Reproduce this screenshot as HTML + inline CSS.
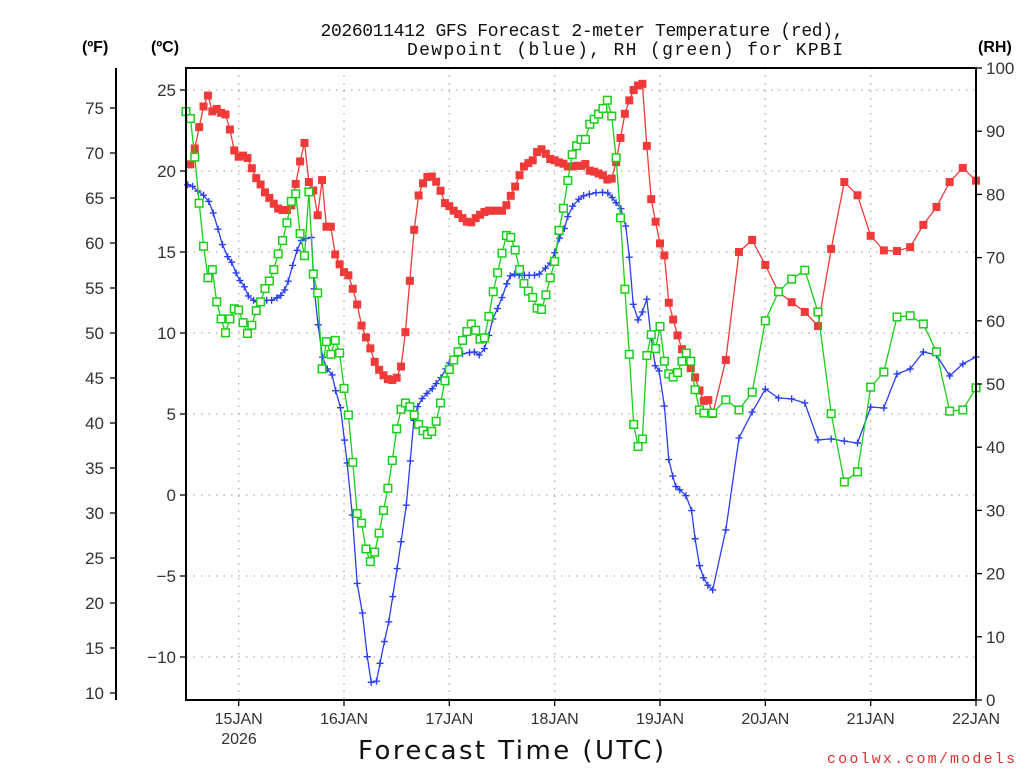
<!DOCTYPE html>
<html><head><meta charset="utf-8"><style>
html,body{margin:0;padding:0;background:#fff;}
svg{display:block;font-family:"Liberation Sans","DejaVu Sans",sans-serif;}
</style></head><body>
<svg id="chart" width="1024" height="768" viewBox="0 0 1024 768" xmlns="http://www.w3.org/2000/svg"></svg>
<script>
// ---- data ----
const dayLabels = ["15JAN","16JAN","17JAN","18JAN","19JAN","20JAN","21JAN","22JAN"];
const cTicks = [25,20,15,10,5,0,-5,-10];
const fTicks = [75,70,65,60,55,50,45,40,35,30,25,20,15,10];
const rhTicks = [100,90,80,70,60,50,40,30,20,10,0];

const tempHours = [1,2,3,4,5,6,7,8,9,10,11,12,13,14,15,16,17,18,19,20,21,22,23,24,25,26,27,28,29,30,31,32,33,34,35,36,37,38,39,40,41,42,43,44,45,46,47,48,49,50,51,52,53,54,55,56,57,58,59,
60,61,62,63,64,65,66,67,68,69,70,71,72,73,74,75,76,77,78,79,80,81,82,83,84,85,86,87,88,89,90,91,92,93,94,95,96,97,98,99,100,101,102,103,104,105,106,107,108,109,110,111,112,113,114,115,116,117,118,119,120,
123,126,129,132,135,138,141,144,147,150,153,156,159,162,165,168,171,174,177,180];
const tempC = [20.41,21.39,22.71,23.98,24.66,23.68,23.83,23.59,23.49,22.56,21.27,20.88,20.95,20.80,20.17,19.56,19.17,18.68,18.34,17.98,17.68,17.59,17.59,17.88,19.2,20.59,21.73,19.32,18.80,17.27,19.44,16.56,16.56,14.85,14.24,13.76,13.56,12.73,11.76,10.46,9.73,9.05,8.22,7.73,7.39,7.15,7.10,7.24,7.93,10.05,13.22,16.37,18.49,19.24,19.63,19.66,19.34,18.78,18.02,
17.83,17.55,17.34,17.09,16.87,16.83,17.09,17.30,17.47,17.55,17.55,17.55,17.55,17.89,18.47,19.04,19.74,20.28,20.49,20.66,21.17,21.34,21.06,20.74,20.66,20.53,20.45,20.28,20.28,20.32,20.32,20.43,20.02,19.96,19.85,19.74,19.47,19.53,20.55,22.04,23.53,24.36,25.0,25.28,25.38,21.55,18.26,16.87,15.53,14.79,11.87,10.83,9.85,9.0,8.40,7.83,7.26,6.45,5.81,5.86,5.0,
8.33,15.0,15.74,14.2,12.53,11.9,11.3,10.43,15.19,19.32,18.5,16.0,15.1,15.06,15.3,16.67,17.78,19.32,20.19,19.4];

const dewHours = [0.4,1.5,2.7,4.0,5.2,6.2,7.3,8.3,9.5,10.4,11.4,12.3,13.3,14.2,15.4,16.3,17.4,18.4,19.5,20.7,21.6,22.5,23.3,24.3,25.3,26.3,27.3,28.6,29.2,30.1,31.1,32.2,33.3,34.1,35.2,36.1,36.7,37.9,39.0,40.2,41.3,42.2,43.4,44.2,45.2,46.2,47.1,48.1,49.0,50.2,51.1,51.9,52.8,53.8,54.9,56.1,57.0,58.1,59.2,
60.0,61.5,63.0,64.6,65.7,66.8,68.0,69.0,69.9,71.0,72.0,73.1,73.9,74.9,75.9,77.1,78.2,79.4,80.5,81.9,83.0,84.0,85.1,86.2,87.0,88.1,89.5,90.6,91.9,93.4,94.9,96.1,97.1,98.0,99.1,100.2,101.0,101.9,103.0,104.0,105.0,105.9,106.9,107.8,109.0,110.0,110.9,111.6,112.5,113.9,115.2,116.0,117.0,117.9,118.9,120,
123,126,129,132,135,138,141,144,147,150,153,156,159,162,165,168,171,174,177,180];
const dewC = [19.15,19.05,18.76,18.51,18.12,17.41,16.41,15.46,14.71,14.37,13.71,13.24,12.85,12.29,12.02,11.93,11.98,12.02,12.02,12.17,12.32,12.66,13.20,14.17,15.10,15.71,15.83,15.90,12.73,10.51,8.51,7.78,7.41,6.44,5.39,3.39,1.98,-1.24,-5.46,-7.29,-9.98,-11.56,-11.49,-10.39,-9.05,-7.83,-6.27,-4.54,-2.88,-0.63,2.10,4.61,5.46,5.95,6.27,6.56,6.88,7.24,7.78,
8.15,8.57,8.72,8.79,8.83,8.64,9.04,9.85,10.87,11.51,12.19,13.04,13.53,13.64,13.57,13.57,13.57,13.57,13.64,14.0,14.32,14.96,15.85,16.45,17.19,17.83,18.26,18.47,18.57,18.66,18.68,18.64,18.36,18.04,17.68,16.60,14.68,11.77,10.81,11.30,12.09,9.89,7.98,7.66,5.49,2.19,1.17,0.53,0.32,-0.04,-0.96,-2.70,-4.36,-5.11,-5.57,-5.86,
-2.16,3.52,5.12,6.54,5.99,5.93,5.68,3.40,3.46,3.33,3.21,5.43,5.37,7.47,7.78,8.83,8.64,7.35,8.09,8.52];

const rhHours = [0,1,2,3,4,5,6,7,8,9,10,11,12,13,14,15,16,17,18,19,20,21,22,23,24,25,26,27,28,29,30,31,32,33,34,35,36,37,38,39,40,41,42,43,44,45,46,47,48,49,50,51,52,53,54,55,56,57,58,59,
60,61,62,63,64,65,66,67,68,69,70,71,72,73,74,75,76,77,78,79,80,81,82,83,84,85,86,87,88,89,90,91,92,93,94,95,96,97,98,99,100,101,102,103,104,105,106,107,108,109,110,111,112,113,114,115,116,117,118,120,
123,126,129,132,135,138,141,144,147,150,153,156,159,162,165,168,171,174,177,180];
const rhVals = [93.1,92.0,85.9,78.6,71.8,66.8,68.1,63.0,60.3,58.1,60.3,61.9,61.7,59.7,58.0,59.3,61.6,63.0,65.1,66.3,68.1,70.6,72.7,75.5,78.9,80.1,73.8,70.3,80.4,67.4,64.4,52.4,56.7,54.7,56.9,54.9,49.3,45.1,37.6,29.5,28.0,23.9,21.9,23.4,26.4,30.0,33.5,37.9,42.9,46.0,47.0,46.4,45.1,43.6,42.6,42.0,42.5,44.1,47.0,50.5,
52.3,53.8,55.1,56.9,58.3,59.5,58.5,57.1,57.3,60.7,64.6,67.6,70.7,73.5,73.2,71.2,68.1,65.9,64.7,63.7,62.0,61.8,64.1,66.8,69.4,74.3,77.8,82.2,86.3,87.7,88.7,88.7,91.1,91.9,92.7,93.6,94.9,92.4,85.8,76.3,65.0,54.7,43.6,40.1,41.3,54.5,57.8,55.6,59.1,53.6,51.6,51.1,51.8,53.6,54.9,53.6,49.1,45.9,45.4,45.4,
47.5,45.9,48.7,60.0,64.6,66.6,68.0,61.4,45.3,34.5,36.1,49.5,51.9,60.6,60.8,59.5,55.1,45.7,45.9,49.4];

// ---- scales ----
const X0=186, X1=976, Y0=68, Y1=700, HMAX=180;
const xh = h => X0 + h*(X1-X0)/HMAX;
const yC = c => 90 + (25-c)*16.2;
const yF = f => yC((f-32)/1.8);
const yRH = r => Y1 - r*(Y1-Y0)/100;
const NS="http://www.w3.org/2000/svg";
const svg=document.getElementById('chart');
function mk(tag,attrs,parent){const e=document.createElementNS(NS,tag);for(const k in attrs)e.setAttribute(k,attrs[k]);(parent||svg).appendChild(e);return e;}
function txt(s,attrs,parent){const e=mk('text',attrs,parent);e.textContent=s;return e;}

// grid
const grid=mk('g',{stroke:'#b0b0b0','stroke-width':1.3,'stroke-dasharray':'1.5,6'});


cTicks.forEach(c=>{const l=mk('line',{x1:X0,x2:X1,y1:yC(c),y2:yC(c)},grid);

});
dayLabels.forEach((d,i)=>{const x=xh(12+24*i);const l=mk('line',{x1:x,x2:x,y1:Y0,y2:Y1},grid);

});

// series
function series(hours,vals,yf,color,marker,name){
  const g=mk('g',{});
  
  
  const pts=hours.map((h,i)=>xh(h).toFixed(1)+','+yf(vals[i]).toFixed(1)).join(' ');
  mk('polyline',{points:pts,fill:'none',stroke:color,'stroke-width':1.3},g);
  hours.forEach((h,i)=>{
    const x=xh(h),y=yf(vals[i]);let m;
    if(marker==='sq') m=mk('rect',{x:x-4,y:y-4,width:8,height:8,fill:color},g);
    else if(marker==='open') m=mk('rect',{x:x-3.8,y:y-3.8,width:7.6,height:7.6,fill:'#fff',stroke:color,'stroke-width':1.5},g);
    else m=mk('path',{d:`M${x-3.5},${y}H${x+3.5}M${x},${y-3.5}V${y+3.5}`,stroke:color,'stroke-width':1.4},g);
    
    
  });
}
series(tempHours,tempC,yC,'#f03a3a','sq','temperature-series');
series(dewHours,dewC,yC,'#2a3ff0','plus','dewpoint-series');
series(rhHours,rhVals,yRH,'#18d018','open','rh-series');

// frame
const fr=mk('rect',{x:X0,y:Y0,width:X1-X0,height:Y1-Y0,fill:'none',stroke:'#000','stroke-width':2});


const fax=mk('line',{x1:116,x2:116,y1:Y0,y2:Y1,stroke:'#000','stroke-width':2});



const tc='#333';
cTicks.forEach(c=>{const y=yC(c);
  mk('line',{x1:X0-6,x2:X0,y1:y,y2:y,stroke:'#000','stroke-width':1.3});
  const t=txt((c<0?'\u2212':'')+Math.abs(c),{x:X0-10,y:y+6,'text-anchor':'end','font-size':17,fill:tc});
  
  });
fTicks.forEach(f=>{const y=yF(f);
  mk('line',{x1:110,x2:116,y1:y,y2:y,stroke:'#000','stroke-width':1.3});
  const t=txt(String(f),{x:104,y:y+6,'text-anchor':'end','font-size':17,fill:tc});
  
  });
rhTicks.forEach(r=>{const y=yRH(r);
  mk('line',{x1:X1,x2:X1+6,y1:y,y2:y,stroke:'#000','stroke-width':1.3});
  const t=txt(String(r),{x:X1+10,y:y+6,'text-anchor':'start','font-size':17,fill:tc});
  
  });
dayLabels.forEach((d,i)=>{const x=xh(12+24*i);
  mk('line',{x1:x,x2:x,y1:Y1,y2:Y1+6,stroke:'#000','stroke-width':1.3});
  const t=txt(d,{x:x,y:724,'text-anchor':'middle','font-size':16,fill:tc});
  
  });
</script>
<svg style="position:absolute;left:0;top:0" width="1024" height="768">
<text x="239" y="744" text-anchor="middle" font-family="Liberation Sans, sans-serif" font-size="16" fill="#333">2026</text>
<text x="582" y="36" text-anchor="middle" font-family="Liberation Mono, monospace" font-size="18" fill="#111" textLength="523">2026011412 GFS Forecast 2-meter Temperature (red),</text>
<text x="625" y="55" text-anchor="middle" font-family="Liberation Mono, monospace" font-size="18" fill="#111" textLength="436">Dewpoint (blue), RH (green) for KPBI</text>
<text x="82" y="52" font-family="Liberation Sans, sans-serif" font-size="16" font-weight="bold">(ºF)</text>
<text x="151" y="52" font-family="Liberation Sans, sans-serif" font-size="16" font-weight="bold">(ºC)</text>
<text x="978" y="52" font-family="Liberation Sans, sans-serif" font-size="16" font-weight="bold">(RH)</text>
<text x="511" y="759" text-anchor="middle" font-family="DejaVu Sans, sans-serif" font-size="26" fill="#111" textLength="306">Forecast Time (UTC)</text>
<text x="1015" y="763" text-anchor="end" font-family="Liberation Mono, monospace" font-size="15" fill="#e03030" textLength="188">coolwx.com/models</text>
</svg>
</body></html>
